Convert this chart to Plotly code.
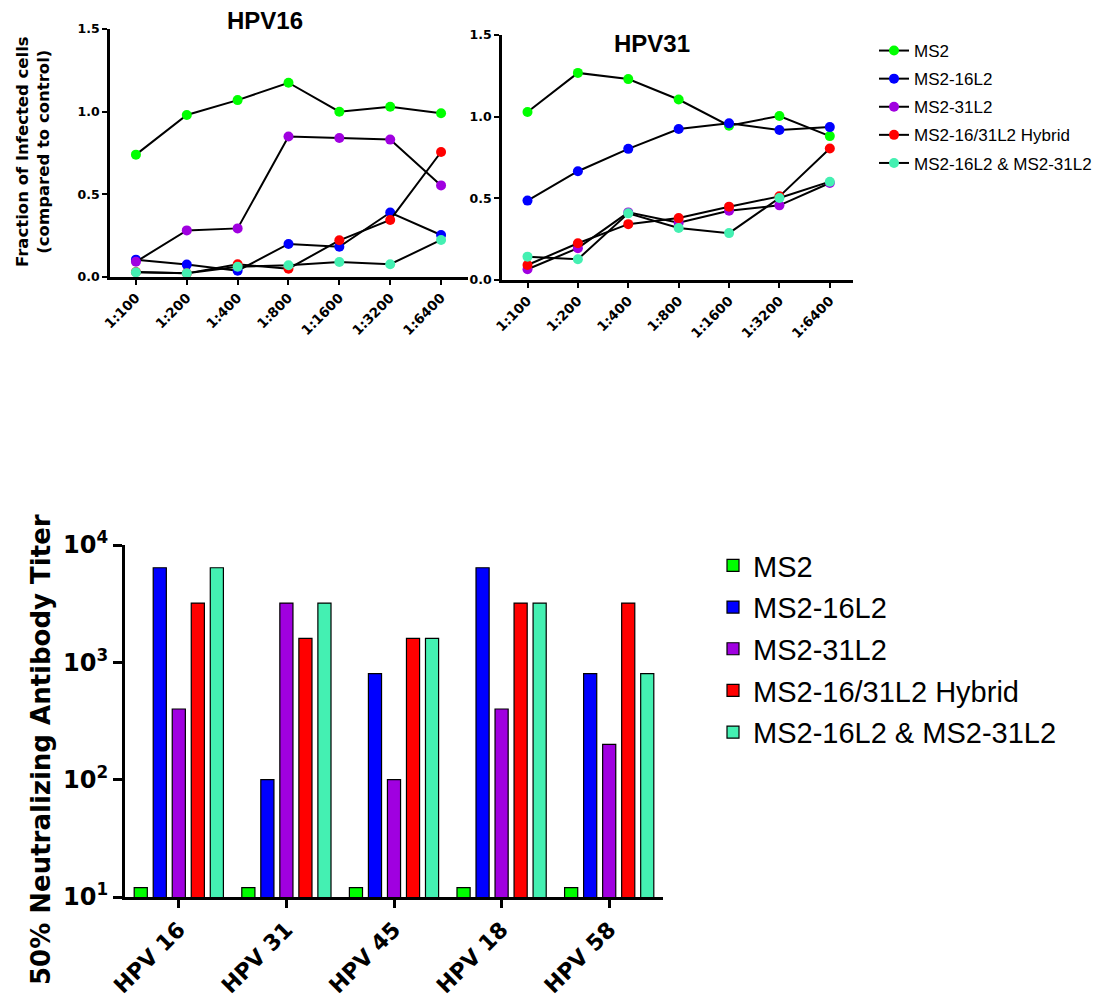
import plotly.graph_objects as go

# ---------------- data ----------------
dilutions = ["1:100", "1:200", "1:400", "1:800", "1:1600", "1:3200", "1:6400"]
series_names = ["MS2", "MS2-16L2", "MS2-31L2", "MS2-16/31L2 Hybrid", "MS2-16L2 & MS2-31L2"]
series_colors = ["#00FF00", "#0000FF", "#A000E0", "#FF0000", "#44F0B2"]

# HPV16 fraction of infected cells
hpv16_ms2 = [0.74, 0.98, 1.07, 1.175, 1.00, 1.03, 0.99]
hpv16_16l2 = [0.105, 0.075, 0.038, 0.20, 0.183, 0.39, 0.254]
hpv16_31l2 = [0.092, 0.282, 0.294, 0.85, 0.841, 0.831, 0.554]
hpv16_hybrid = [0.03, 0.022, 0.077, 0.05, 0.222, 0.345, 0.756]
hpv16_mix = [0.028, 0.022, 0.062, 0.071, 0.091, 0.077, 0.224]

# HPV31 fraction of infected cells
hpv31_ms2 = [1.029, 1.268, 1.23, 1.105, 0.945, 1.004, 0.881]
hpv31_16l2 = [0.486, 0.666, 0.803, 0.924, 0.959, 0.918, 0.936]
hpv31_31l2 = [0.066, 0.195, 0.414, 0.35, 0.424, 0.457, 0.594]
hpv31_hybrid = [0.092, 0.225, 0.342, 0.379, 0.449, 0.512, 0.805]
hpv31_mix = [0.143, 0.127, 0.408, 0.318, 0.287, 0.502, 0.602]

# 50% neutralizing antibody titer
hpv_types = ["HPV 16", "HPV 31", "HPV 45", "HPV 18", "HPV 58"]
titer_ms2 = [12, 12, 12, 12, 12]
titer_16l2 = [6400, 100, 800, 6400, 800]
titer_31l2 = [400, 3200, 100, 400, 200]
titer_hybrid = [3200, 1600, 1600, 3200, 3200]
titer_mix = [6400, 3200, 1600, 3200, 800]

frac_tick_vals = [0, 0.5, 1.0, 1.5]
frac_tick_text = ["0.0", "0.5", "1.0", "1.5"]
titer_tick_vals = [10, 100, 1000, 10000]
titer_tick_text = ["10<sup>1</sup>", "10<sup>2</sup>", "10<sup>3</sup>", "10<sup>4</sup>"]

# ---------------- figure ----------------
W, H = 1120, 1006
SANS = "Liberation Sans, Arial, Helvetica, sans-serif"
WIDE_BOLD = "DejaVu Sans, Liberation Sans, Arial, sans-serif"


def px(x):
    return x / W


def py(y):
    return 1 - y / H


fig = go.Figure()

hpv16_series = [hpv16_ms2, hpv16_16l2, hpv16_31l2, hpv16_hybrid, hpv16_mix]
hpv31_series = [hpv31_ms2, hpv31_16l2, hpv31_31l2, hpv31_hybrid, hpv31_mix]

for i, (name, col) in enumerate(zip(series_names, series_colors)):
    fig.add_trace(go.Scatter(
        x=dilutions, y=hpv16_series[i], name=name, mode="lines+markers",
        line=dict(color="black", width=2),
        marker=dict(color=col, size=10, line=dict(width=0)),
        xaxis="x", yaxis="y", legend="legend", legendgroup="g%d" % i,
        showlegend=True, cliponaxis=False,
    ))
for i, (name, col) in enumerate(zip(series_names, series_colors)):
    fig.add_trace(go.Scatter(
        x=dilutions, y=hpv31_series[i], name=name, mode="lines+markers",
        line=dict(color="black", width=2),
        marker=dict(color=col, size=10, line=dict(width=0)),
        xaxis="x2", yaxis="y2", legendgroup="g%d" % i,
        showlegend=False, cliponaxis=False,
    ))

titers = [titer_ms2, titer_16l2, titer_31l2, titer_hybrid, titer_mix]
for i, (name, col) in enumerate(zip(series_names, series_colors)):
    fig.add_trace(go.Bar(
        x=hpv_types, y=titers[i], name=name,
        marker=dict(color=col, line=dict(color="black", width=1.2)),
        xaxis="x3", yaxis="y3", legend="legend2", legendgroup="b%d" % i,
    ))

top_x = dict(
    type="category", showline=True, linecolor="black", linewidth=2.5,
    ticks="outside", ticklen=5, tickwidth=2, tickcolor="black",
    tickangle=-45, tickfont=dict(family=WIDE_BOLD, size=13.5, color="black", weight="bold"),
    showgrid=False, zeroline=False, automargin=False,
)
top_y = dict(
    range=[0, 1.5], tickvals=frac_tick_vals, ticktext=frac_tick_text,
    showline=True, linecolor="black", linewidth=2.5,
    ticks="outside", ticklen=5, tickwidth=2, tickcolor="black",
    tickfont=dict(family=WIDE_BOLD, size=12.5, color="black", weight="bold"),
    showgrid=False, zeroline=False, automargin=False,
)

fig.update_layout(
    width=W, height=H,
    margin=dict(l=0, r=0, t=0, b=0, autoexpand=False),
    paper_bgcolor="white", plot_bgcolor="white",
    font=dict(family=SANS, color="black"),
    barmode="group", bargap=0.116, bargroupgap=0.31,
    xaxis=dict(top_x, domain=[px(110), px(468)], range=[-0.51, 6.53], anchor="y"),
    yaxis=dict(top_y, domain=[py(277), py(29)], anchor="x"),
    xaxis2=dict(top_x, domain=[px(502), px(853)], range=[-0.506, 6.46], anchor="y2"),
    yaxis2=dict(top_y, domain=[py(280), py(35)], anchor="x2"),
    xaxis3=dict(
        type="category", domain=[px(125), px(663)], range=[-0.5, 4.5], anchor="y3",
        showline=True, linecolor="black", linewidth=3,
        ticks="outside", ticklen=8, tickwidth=3, tickcolor="black",
        tickangle=-45, tickfont=dict(family=WIDE_BOLD, size=22, color="black", weight="bold"),
        showgrid=False, zeroline=False, automargin=False,
    ),
    yaxis3=dict(
        type="log", range=[1, 4], domain=[py(897), py(545)], anchor="x3",
        tickvals=titer_tick_vals, ticktext=titer_tick_text,
        showline=True, linecolor="black", linewidth=3,
        ticks="outside", ticklen=9, tickwidth=3, tickcolor="black",
        tickfont=dict(family=WIDE_BOLD, size=24, color="black", weight="bold"),
        showgrid=False, zeroline=False, automargin=False,
    ),
    legend=dict(
        x=px(874), y=py(33), xanchor="left", yanchor="top",
        font=dict(family=SANS, size=17, color="black"),
        bgcolor="rgba(0,0,0,0)", traceorder="grouped", tracegroupgap=3,
    ),
    legend2=dict(
        x=px(713), y=py(540), xanchor="left", yanchor="top",
        font=dict(family=SANS, size=29, color="black"),
        bgcolor="rgba(0,0,0,0)", traceorder="grouped", tracegroupgap=1,
    ),
    annotations=[
        dict(text="<b>HPV16</b>", x=px(265), y=py(21), xref="paper", yref="paper",
             xanchor="center", yanchor="middle", showarrow=False,
             font=dict(family=SANS, size=24, color="black")),
        dict(text="<b>HPV31</b>", x=px(652), y=py(43), xref="paper", yref="paper",
             xanchor="center", yanchor="middle", showarrow=False,
             font=dict(family=SANS, size=24, color="black")),
        dict(text="<b>Fraction of Infected cells<br>(compared to control)</b>",
             x=px(33), y=py(152), xref="paper", yref="paper", textangle=-90,
             xanchor="center", yanchor="middle", showarrow=False,
             font=dict(family=WIDE_BOLD, size=16.5, color="black")),
        dict(text="<b>50% Neutralizing Antibody Titer</b>",
             x=px(41), y=py(750), xref="paper", yref="paper", textangle=-90,
             xanchor="center", yanchor="middle", showarrow=False,
             font=dict(family=WIDE_BOLD, size=26, color="black")),
    ],
)

fig.write_html(
    "out.html",
    config={"displayModeBar": False},
    post_script="document.body.style.margin='0';document.body.style.overflow='hidden';",
)
